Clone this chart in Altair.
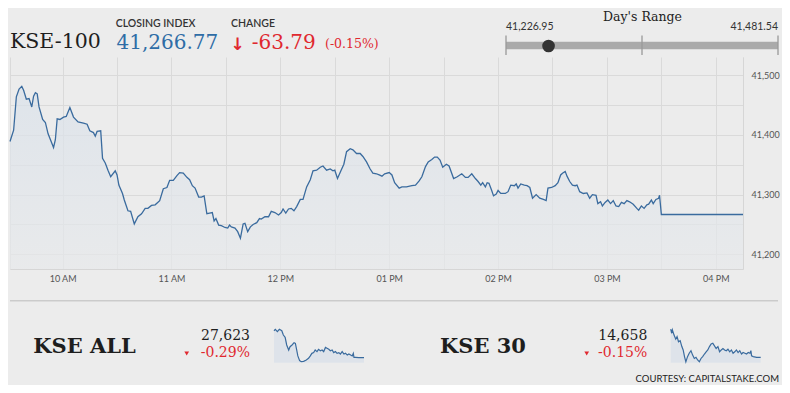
import altair as alt
import pandas as pd

# ---------------- data ----------------
DATE = "2019-06-20"

KSE100 = [
    ("09:31:00", 41389), ("09:33:00", 41408), ("09:34:30", 41464), ("09:36:00", 41477),
    ("09:37:30", 41481.5), ("09:38:30", 41475), ("09:40:00", 41460), ("09:41:30", 41461),
    ("09:43:00", 41447), ("09:44:00", 41465), ("09:45:00", 41471), ("09:46:00", 41469),
    ("09:47:00", 41447), ("09:49:00", 41426), ("09:50:30", 41421), ("09:52:00", 41402),
    ("09:55:00", 41379), ("09:56:00", 41392), ("09:57:00", 41427), ("09:58:30", 41426),
    ("10:00:30", 41430), ("10:02:00", 41431), ("10:04:00", 41446), ("10:06:00", 41430),
    ("10:08:30", 41422), ("10:11:30", 41420), ("10:13:30", 41418), ("10:15:00", 41407),
    ("10:17:00", 41404), ("10:18:00", 41398), ("10:19:00", 41406), ("10:21:00", 41407),
    ("10:22:00", 41361), ("10:23:30", 41353), ("10:25:00", 41341), ("10:26:30", 41330),
    ("10:29:00", 41340), ("10:30:00", 41333), ("10:31:00", 41316), ("10:33:00", 41302),
    ("10:34:00", 41291), ("10:36:00", 41273), ("10:37:30", 41272), ("10:39:30", 41251),
    ("10:41:30", 41263), ("10:43:30", 41268), ("10:45:30", 41277), ("10:47:00", 41277),
    ("10:49:00", 41282), ("10:51:00", 41283), ("10:53:30", 41290), ("10:55:30", 41310),
    ("10:57:30", 41312), ("10:59:00", 41324), ("11:01:00", 41324), ("11:03:00", 41332),
    ("11:04:30", 41337), ("11:06:30", 41336), ("11:08:30", 41329), ("11:10:00", 41325),
    ("11:11:30", 41315), ("11:13:00", 41311), ("11:15:00", 41296), ("11:16:30", 41296),
    ("11:18:00", 41298), ("11:19:30", 41268), ("11:21:00", 41269), ("11:22:30", 41270),
    ("11:23:30", 41256), ("11:24:30", 41260), ("11:26:00", 41249), ("11:27:30", 41248),
    ("11:29:30", 41245), ("11:31:00", 41244), ("11:32:00", 41249), ("11:33:00", 41246),
    ("11:35:00", 41244), ("11:36:30", 41238), ("11:38:00", 41227), ("11:39:30", 41251),
    ("11:40:30", 41252), ("11:42:00", 41238), ("11:43:30", 41246), ("11:45:00", 41250),
    ("11:47:00", 41253), ("11:48:30", 41260), ("11:49:30", 41259), ("11:51:30", 41263),
    ("11:53:30", 41263), ("11:55:00", 41272), ("11:57:00", 41270), ("11:59:00", 41266),
    ("12:00:30", 41270), ("12:01:30", 41276), ("12:03:00", 41269), ("12:04:30", 41276),
    ("12:06:00", 41277), ("12:07:30", 41273), ("12:09:00", 41280), ("12:11:00", 41292),
    ("12:12:30", 41292), ("12:14:30", 41313), ("12:16:30", 41325), ("12:18:00", 41340),
    ("12:20:00", 41341), ("12:22:00", 41346), ("12:23:30", 41348), ("12:25:30", 41341),
    ("12:27:30", 41343), ("12:29:00", 41340), ("12:30:00", 41341), ("12:31:30", 41327),
    ("12:33:30", 41341), ("12:35:00", 41351), ("12:36:30", 41372), ("12:38:30", 41377),
    ("12:40:00", 41375), ("12:42:00", 41369), ("12:44:00", 41369), ("12:45:30", 41364),
    ("12:47:30", 41355), ("12:49:30", 41343), ("12:51:00", 41336), ("12:53:00", 41335),
    ("12:54:30", 41333), ("12:56:00", 41331), ("12:57:30", 41335), ("13:00:00", 41337),
    ("13:01:30", 41333), ("13:03:00", 41320), ("13:05:30", 41311), ("13:07:00", 41313),
    ("13:09:30", 41313), ("13:12:30", 41315), ("13:14:30", 41316), ("13:16:30", 41323),
    ("13:18:00", 41330), ("13:20:00", 41347), ("13:21:30", 41355), ("13:23:30", 41359),
    ("13:25:00", 41363), ("13:26:30", 41363), ("13:28:00", 41358), ("13:29:30", 41346),
    ("13:31:30", 41351), ("13:33:00", 41348), ("13:35:30", 41327), ("13:37:30", 41330),
    ("13:40:00", 41335), ("13:42:00", 41329), ("13:43:30", 41329), ("13:45:30", 41335),
    ("13:47:30", 41327), ("13:49:00", 41322), ("13:50:30", 41316), ("13:51:30", 41320),
    ("13:53:00", 41313), ("13:54:00", 41320), ("13:55:00", 41319), ("13:56:30", 41307),
    ("13:57:30", 41298), ("13:59:00", 41301), ("14:00:00", 41307), ("14:01:30", 41302),
    ("14:04:00", 41302), ("14:05:30", 41305), ("14:07:00", 41316), ("14:09:00", 41315),
    ("14:10:00", 41318), ("14:11:00", 41311), ("14:12:30", 41318), ("14:14:30", 41316),
    ("14:16:00", 41315), ("14:17:30", 41312), ("14:19:00", 41294), ("14:21:00", 41300),
    ("14:23:00", 41294), ("14:25:00", 41292), ("14:26:30", 41290), ("14:27:30", 41311),
    ("14:29:30", 41312), ("14:31:30", 41315), ("14:33:00", 41320), ("14:34:30", 41333),
    ("14:35:30", 41336), ("14:37:00", 41339), ("14:38:00", 41331), ("14:39:30", 41322),
    ("14:41:00", 41316), ("14:42:30", 41315), ("14:43:30", 41316), ("14:45:00", 41305),
    ("14:47:00", 41302), ("14:49:00", 41303), ("14:50:30", 41294), ("14:52:00", 41300),
    ("14:54:00", 41299), ("14:55:00", 41285), ("14:56:30", 41288), ("14:57:30", 41281),
    ("14:59:00", 41287), ("15:00:30", 41291), ("15:02:00", 41285), ("15:03:30", 41290),
    ("15:05:00", 41281), ("15:06:30", 41280), ("15:08:00", 41287), ("15:09:30", 41285),
    ("15:11:00", 41290), ("15:12:30", 41288), ("15:14:30", 41284), ("15:16:30", 41277),
    ("15:17:30", 41274), ("15:19:00", 41281), ("15:20:30", 41277), ("15:22:00", 41283),
    ("15:23:00", 41284), ("15:24:30", 41291), ("15:25:30", 41285), ("15:27:00", 41292),
    ("15:28:30", 41294), ("15:29:00", 41299), ("15:30:00", 41266.77), ("16:15:00", 41266.77),
]

KSE_ALL_SPARK = [
    ("09:31:00", 27778), ("09:37:00", 27786), ("09:46:00", 27773), ("09:55:00", 27786),
    ("10:06:00", 27778), ("10:13:00", 27753), ("10:21:00", 27740), ("10:28:00", 27696),
    ("10:37:00", 27667), ("10:43:00", 27686), ("10:52:00", 27696), ("11:01:00", 27709),
    ("11:07:00", 27705), ("11:13:00", 27667), ("11:18:00", 27633), ("11:26:00", 27606),
    ("11:33:00", 27600), ("11:44:00", 27602), ("11:56:00", 27610), ("12:06:00", 27619),
    ("12:14:00", 27633), ("12:21:00", 27648), ("12:29:00", 27652), ("12:36:00", 27667),
    ("12:44:00", 27658), ("12:51:00", 27671), ("12:59:00", 27663), ("13:07:00", 27667),
    ("13:14:00", 27658), ("13:22:00", 27682), ("13:29:00", 27677), ("13:37:00", 27671),
    ("13:44:00", 27663), ("13:52:00", 27667), ("13:59:00", 27652), ("14:07:00", 27658),
    ("14:14:00", 27648), ("14:22:00", 27652), ("14:29:00", 27644), ("14:37:00", 27658),
    ("14:45:00", 27644), ("14:52:00", 27648), ("15:00:00", 27638), ("15:07:00", 27644),
    ("15:15:00", 27638), ("15:22:00", 27633), ("15:27:00", 27648), ("15:30:00", 27625),
    ("15:37:00", 27625), ("15:52:00", 27623), ("16:15:00", 27623),
]

KSE30_SPARK = [
    ("09:31:00", 14734), ("09:35:30", 14723), ("09:38:30", 14732), ("09:46:00", 14718),
    ("09:53:30", 14707), ("09:59:30", 14714), ("10:06:00", 14700), ("10:13:30", 14703),
    ("10:21:00", 14687), ("10:27:00", 14678), ("10:33:00", 14660), ("10:39:00", 14646),
    ("10:46:30", 14660), ("10:54:00", 14669), ("11:02:00", 14676), ("11:09:30", 14664),
    ("11:17:00", 14655), ("11:24:30", 14658), ("11:32:00", 14651), ("11:39:30", 14646),
    ("11:47:00", 14655), ("11:54:30", 14660), ("12:02:30", 14667), ("12:10:00", 14673),
    ("12:17:30", 14678), ("12:25:00", 14687), ("12:32:30", 14694), ("12:40:00", 14696),
    ("12:47:30", 14689), ("12:55:00", 14682), ("13:03:00", 14687), ("13:10:30", 14673),
    ("13:18:00", 14678), ("13:25:30", 14682), ("13:33:00", 14678), ("13:40:30", 14676),
    ("13:48:00", 14680), ("13:56:00", 14673), ("14:03:30", 14678), ("14:11:00", 14669),
    ("14:18:30", 14673), ("14:26:00", 14678), ("14:33:30", 14671), ("14:41:00", 14676),
    ("14:49:00", 14667), ("14:56:00", 14671), ("15:04:00", 14669), ("15:11:30", 14667),
    ("15:19:00", 14671), ("15:26:30", 14669), ("15:31:00", 14676), ("15:34:00", 14662),
    ("15:41:30", 14660), ("15:57:00", 14658), ("16:15:00", 14658),
]

X_START, X_END = "09:31:00", "16:15:00"
X_GRID = ["09:31:00", "10:00:00", "10:30:00", "11:00:00", "11:30:00", "12:00:00",
          "12:30:00", "13:00:00", "13:30:00", "14:00:00", "14:30:00", "15:00:00",
          "15:30:00", "16:00:00", "16:15:00"]
Y_GRID = [41200, 41250, 41300, 41350, 41400, 41450, 41500]
Y_DOMAIN = [41175.4, 41530.7]

TITLE = "KSE-100"
CLOSING_LABEL = "CLOSING INDEX"
CLOSING_VALUE = "41,266.77"
CHANGE_LABEL = "CHANGE"
CHANGE_ARROW = "↓"
CHANGE_VALUE = "-63.79"
CHANGE_PCT = "(-0.15%)"
RANGE_TITLE = "Day's Range"
DAY_LOW, DAY_HIGH, CURRENT = 41226.95, 41481.54, 41266.77

ALL_NAME, ALL_VALUE, ALL_PCT = "KSE ALL", "27,623", "-0.29%"
K30_NAME, K30_VALUE, K30_PCT = "KSE 30", "14,658", "-0.15%"
ALL_DOMAIN = [27594, 27792]
K30_DOMAIN = [14643.6, 14736.3]
COURTESY = "COURTESY: CAPITALSTAKE.COM"

# ---------------- style ----------------
BG = "#ececec"
LINE = "#3a6b9e"
BLUE = "#2f6da6"
RED = "#e0282f"
DARK = "#1e1e1e"
SERIF = "DejaVu Serif"
SANS = "Lato"


def iso(t):
    return f"{DATE}T{t}Z"


def ms(t):
    return int(pd.Timestamp(iso(t)).value // 10**6)


X_DOM = [ms(X_START), ms(X_END)]


def series_df(points):
    return pd.DataFrame({"t": [iso(t) for t, _ in points], "v": [v for _, v in points]})


# ---------------- main chart ----------------
main = alt.Chart(series_df(KSE100)).mark_area(
    color=alt.Gradient(
        gradient="linear",
        stops=[alt.GradientStop(color="#e7e9eb", offset=0),
               alt.GradientStop(color="#d9e1ea", offset=1)],
        x1=1, x2=1, y1=1, y2=0,
    ),
    line=alt.OverlayMarkDef(color=LINE, strokeWidth=1.3),
).encode(
    x=alt.X("t:T", title=None,
            scale=alt.Scale(type="utc", domain=X_DOM),
            axis=alt.Axis(values=[ms(t) for t in X_GRID],
                          labelExpr="utcminutes(datum.value) == 0 ? utcFormat(datum.value, '%I %p') : ''",
                          grid=True, gridColor="#dadada", gridWidth=1,
                          ticks=False, domain=True, domainColor="#d6d6d6",
                          labelFont=SANS, labelFontSize=9, labelColor="#555555",
                          labelPadding=5, labelOverlap=False, labelFlush=False)),
    y=alt.Y("v:Q", title=None,
            scale=alt.Scale(domain=Y_DOMAIN, zero=False, nice=False),
            axis=alt.Axis(orient="right", values=Y_GRID,
                          labelExpr="datum.value % 100 == 0 ? format(datum.value, ',') : ''",
                          grid=True, gridColor="#dadada", gridWidth=1,
                          ticks=False, domain=True, domainColor="#d6d6d6",
                          labelFont=SANS, labelFontSize=9, labelColor="#555555",
                          labelPadding=8, labelOverlap=False, labelFlush=False)),
    y2=alt.datum(Y_DOMAIN[0]),
)


# ---------------- helpers ----------------
ONE = alt.Data(values=[{"k": 1}])


def txt(s, x, y, size, color=DARK, font=SERIF, weight="normal", align="left"):
    return alt.Chart(ONE).mark_text(
        fontSize=size, color=color, font=font, fontWeight=weight,
        align=align, baseline="alphabetic",
    ).encode(x=alt.value(x), y=alt.value(y), text=alt.value(s))


def tri(x, y):
    return alt.Chart(ONE).mark_point(
        shape="triangle-down", filled=True, size=22, color=RED, opacity=1,
    ).encode(x=alt.value(x), y=alt.value(y))


def spark(points, domain, x0, x1):
    return alt.Chart(series_df(points)).mark_area(
        color="#d8e0e9",
        line=alt.OverlayMarkDef(color=LINE, strokeWidth=1.2),
    ).encode(
        x=alt.X("t:T", axis=None,
                scale=alt.Scale(type="utc", domain=X_DOM, range=[x0, x1])),
        y=alt.Y("v:Q", axis=None,
                scale=alt.Scale(domain=domain, range=[305.7, 271.3], zero=False, nice=False)),
        y2=alt.datum(domain[0]),
    )


# ---------------- day's range ----------------
rng_df = pd.DataFrame({"low": [DAY_LOW], "high": [DAY_HIGH], "cur": [CURRENT]})
tick_df = pd.DataFrame({"p": [DAY_LOW, (DAY_LOW + DAY_HIGH) / 2, DAY_HIGH]})
RX = alt.Scale(domain=[DAY_LOW, DAY_HIGH], range=[496, 768], zero=False, nice=False)

range_bar = alt.Chart(rng_df).mark_rule(color="#aaaaaa", strokeWidth=7.5).encode(
    x=alt.X("low:Q", scale=RX, axis=None), x2="high:Q", y=alt.value(-11.5))
range_ticks = alt.Chart(tick_df).mark_rule(color="#9a9a9a", strokeWidth=1.3).encode(
    x=alt.X("p:Q", scale=RX, axis=None), y=alt.value(-21.5), y2=alt.value(-2))
range_dot = alt.Chart(rng_df).mark_circle(size=160, color="#333333", opacity=1).encode(
    x=alt.X("cur:Q", scale=RX, axis=None), y=alt.value(-11))
range_low = alt.Chart(rng_df).mark_text(
    align="left", baseline="alphabetic", font=SANS, fontSize=10.5, color="#333333").encode(
    x=alt.X("low:Q", scale=RX, axis=None), y=alt.value(-27.5),
    text=alt.Text("low:Q", format=",.2f"))
range_high = alt.Chart(rng_df).mark_text(
    align="right", baseline="alphabetic", font=SANS, fontSize=10.5, color="#333333").encode(
    x=alt.X("high:Q", scale=RX, axis=None), y=alt.value(-27.5),
    text=alt.Text("high:Q", format=",.2f"))

separator = alt.Chart(ONE).mark_rule(color="#cbcbcb", strokeWidth=1.5).encode(
    x=alt.value(0), x2=alt.value(768), y=alt.value(243.8))

layers = [
    main,
    txt(TITLE, 0, -8.7, 20.5),
    txt(CLOSING_LABEL, 105.7, -30.3, 10.5, color="#333333", font=SANS, weight=600),
    txt(CLOSING_VALUE, 106.5, -8, 20, color=BLUE),
    txt(CHANGE_LABEL, 221, -30.3, 10.5, color="#333333", font=SANS, weight=600),
    txt(CHANGE_ARROW, 227.5, -7.5, 17, color=RED, font="DejaVu Sans", weight="bold", align="center"),
    txt(CHANGE_VALUE, 241.7, -8, 20, color=RED),
    txt(CHANGE_PCT, 315, -8.7, 12.5, color=RED),
    txt(RANGE_TITLE, 632.5, -36, 12.5, color="#222222", align="center"),
    range_bar, range_ticks, range_dot, range_low, range_high,
    separator,
    txt(ALL_NAME, 23.3, 296.3, 21, weight="bold"),
    txt(ALL_VALUE, 240, 282.5, 14, align="right"),
    tri(176.7, 296.5),
    txt(ALL_PCT, 240, 299.7, 14, color=RED, align="right"),
    spark(KSE_ALL_SPARK, ALL_DOMAIN, 264, 354),
    txt(K30_NAME, 430, 296.3, 21, weight="bold"),
    txt(K30_VALUE, 637.3, 282.5, 14, align="right"),
    tri(576.7, 296.5),
    txt(K30_PCT, 637.3, 299.7, 14, color=RED, align="right"),
    spark(KSE30_SPARK, K30_DOMAIN, 660.7, 750.7),
    txt(COURTESY, 769, 325, 9.5, color="#222222", font=SANS, align="right"),
]

# whole canvas 774 x 377 so the page (with its 8px margins) is exactly 790 x 393
chart = alt.layer(*layers).resolve_scale(
    x="independent", y="independent"
).properties(
    width=733, height=212,
    padding={"left": 2, "top": 49, "right": 39, "bottom": 116},
    autosize=alt.AutoSizeParams(type="none"),
    background=BG,
).configure_view(strokeWidth=0)

chart.save("out.html", embed_options={"renderer": "svg", "actions": False})
